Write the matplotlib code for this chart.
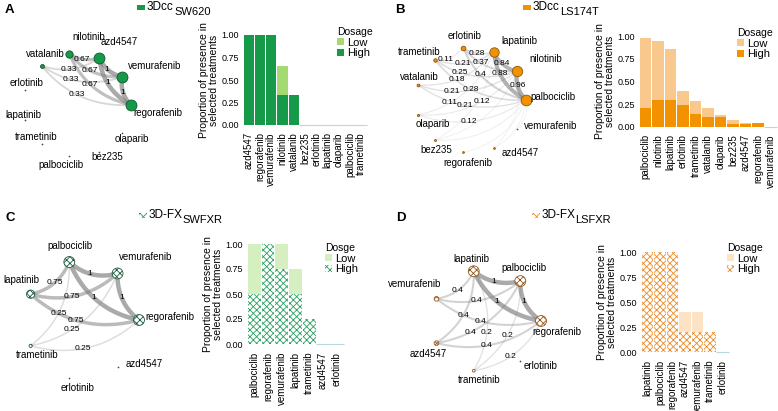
import numpy as np
import matplotlib.pyplot as plt
from matplotlib.patches import Patch, Rectangle

plt.rcParams['font.family'] = ['Liberation Sans', 'DejaVu Sans']
plt.rcParams['hatch.linewidth'] = 0.6

W, H = 778, 411

# ---- panel A: 3Dcc SW620
a_drugs = ["azd4547", "regorafenib", "vemurafenib", "nilotinib", "vatalanib", "bez235",
           "erlotinib", "lapatinib", "olaparib", "palbociclib", "trametinib"]
a_high = [1.0, 1.0, 1.0, 0.33, 0.33, 0, 0, 0, 0, 0, 0]
a_low = [0, 0, 0, 0.33, 0, 0, 0, 0, 0, 0, 0]
a_circle = ["regorafenib", "vemurafenib", "azd4547", "nilotinib", "vatalanib", "erlotinib",
            "lapatinib", "trametinib", "palbociclib", "bez235", "olaparib"]
a_edges = [("azd4547", "regorafenib", 1), ("azd4547", "vemurafenib", 1), ("vemurafenib", "regorafenib", 1),
           ("nilotinib", "azd4547", 0.67), ("nilotinib", "vemurafenib", 0.67), ("nilotinib", "regorafenib", 0.67),
           ("vatalanib", "azd4547", 0.33), ("vatalanib", "vemurafenib", 0.33), ("vatalanib", "regorafenib", 0.33)]

# ---- panel B: 3Dcc LS174T
b_drugs = ["palbociclib", "nilotinib", "lapatinib", "erlotinib", "trametinib", "vatalanib",
           "olaparib", "bez235", "azd4547", "regorafenib", "vemurafenib"]
b_high = [0.21, 0.30, 0.30, 0.24, 0.14, 0.11, 0.11, 0.03, 0.03, 0.04, 0]
b_low = [0.77, 0.65, 0.56, 0.16, 0.14, 0.10, 0.02, 0.05, 0.01, 0, 0]
b_circle = ["palbociclib", "nilotinib", "lapatinib", "erlotinib", "trametinib", "vatalanib",
            "olaparib", "bez235", "regorafenib", "azd4547", "vemurafenib"]
b_edges = [("palbociclib", "nilotinib", 0.96), ("palbociclib", "lapatinib", 0.88), ("nilotinib", "lapatinib", 0.84),
           ("erlotinib", "palbociclib", 0.4), ("erlotinib", "nilotinib", 0.37), ("erlotinib", "lapatinib", 0.28),
           ("trametinib", "palbociclib", 0.28), ("trametinib", "nilotinib", 0.25), ("trametinib", "lapatinib", 0.21),
           ("trametinib", "erlotinib", 0.11),
           ("vatalanib", "palbociclib", 0.21), ("vatalanib", "nilotinib", 0.21), ("vatalanib", "lapatinib", 0.18),
           ("olaparib", "palbociclib", 0.12), ("olaparib", "nilotinib", 0.12), ("olaparib", "lapatinib", 0.11),
           ("bez235", "palbociclib", 0.07), ("bez235", "nilotinib", 0.05), ("bez235", "lapatinib", 0.05),
           ("regorafenib", "palbociclib", 0.04), ("azd4547", "palbociclib", 0.04), ("azd4547", "nilotinib", 0.03),
           ("vemurafenib", "palbociclib", 0.02)]

# ---- panel C: 3D-FX SWFXR
c_drugs = ["palbociclib", "regorafenib", "vemurafenib", "lapatinib", "trametinib", "azd4547", "erlotinib"]
c_high = [0.5, 1.0, 0.75, 0.5, 0.25, 0, 0]
c_low = [0.5, 0, 0.25, 0.25, 0, 0, 0]
c_circle = ["regorafenib", "vemurafenib", "palbociclib", "lapatinib", "trametinib", "erlotinib", "azd4547"]
c_edges = [("palbociclib", "vemurafenib", 1), ("palbociclib", "regorafenib", 1), ("vemurafenib", "regorafenib", 1),
           ("lapatinib", "palbociclib", 0.75), ("lapatinib", "vemurafenib", 0.75), ("lapatinib", "regorafenib", 0.75),
           ("trametinib", "palbociclib", 0.25), ("trametinib", "vemurafenib", 0.25), ("trametinib", "regorafenib", 0.25)]

# ---- panel D: 3D-FX LSFXR
d_drugs = ["lapatinib", "palbociclib", "regorafenib", "azd4547", "vemurafenib", "trametinib", "erlotinib"]
d_high = [1.0, 1.0, 1.0, 0.2, 0.2, 0.2, 0]
d_low = [0, 0, 0, 0.2, 0.2, 0, 0]
d_circle = ["regorafenib", "palbociclib", "lapatinib", "vemurafenib", "azd4547", "trametinib", "erlotinib"]
d_edges = [("lapatinib", "palbociclib", 1), ("lapatinib", "regorafenib", 1), ("palbociclib", "regorafenib", 1),
           ("vemurafenib", "lapatinib", 0.4), ("vemurafenib", "palbociclib", 0.4), ("vemurafenib", "regorafenib", 0.4),
           ("azd4547", "lapatinib", 0.4), ("azd4547", "palbociclib", 0.4), ("azd4547", "regorafenib", 0.4),
           ("trametinib", "lapatinib", 0.2), ("trametinib", "palbociclib", 0.2), ("trametinib", "regorafenib", 0.2)]

# label offsets in pixels (dx, dy up)
a_lab = {"nilotinib": (19, 17), "azd4547": (20, 16), "vemurafenib": (32, 11), "regorafenib": (27, -8),
         "olaparib": (9, -6), "bez235": (8, -5), "palbociclib": (-8, -9), "trametinib": (-5, 7),
         "lapatinib": (-2, 5), "erlotinib": (1, 7), "vatalanib": (4, 12)}
b_lab = {"palbociclib": (27, 3), "nilotinib": (29, 12), "lapatinib": (26, 11), "erlotinib": (1, 12),
         "trametinib": (-16, 8), "vatalanib": (1, 8), "olaparib": (15, -9), "bez235": (1, -10),
         "regorafenib": (5, -11), "azd4547": (26, -5), "vemurafenib": (33, 3)}
c_lab = {"regorafenib": (31, 3), "vemurafenib": (28, 16), "palbociclib": (1, 16), "lapatinib": (-9, 14),
         "trametinib": (7, -9), "erlotinib": (8, -10), "azd4547": (27, 3)}
d_lab = {"regorafenib": (16, -11), "palbociclib": (4, 13), "lapatinib": (-2, 12), "vemurafenib": (-22, 15),
         "azd4547": (-8, -11), "trametinib": (5, -9), "erlotinib": (20, -5)}

fig = plt.figure(figsize=(W / 100, H / 100), dpi=100)


def px_axes(x0, y0, x1, y1):
    return fig.add_axes([x0 / W, 1 - y1 / H, (x1 - x0) / W, (y1 - y0) / H])


def draw_network(cx, cy, rx, ry, order, edges, totals, fill, dark, hatch, lab):
    ax = px_axes(cx - 100, cy - 100, cx + 100, cy + 100)
    ax.set_xlim(-100 / rx, 100 / rx)
    ax.set_ylim(-100 / ry, 100 / ry)
    ax.axis('off')
    n = len(order)
    ang = 2 * np.pi * np.arange(n) / n
    pos = {d: np.array([np.cos(a), np.sin(a)]) for d, a in zip(order, ang)}
    # node label boxes in pixels relative to the circle centre
    name_boxes = [(pos[d][0] * rx + lab[d][0], pos[d][1] * ry + lab[d][1], 2.6 * len(d)) for d in order]
    t = np.linspace(0, 1, 50)[:, None]
    placed = []
    for u, v, w in sorted(edges, key=lambda e: -e[2]):
        if order.index(u) < order.index(v):
            u, v = v, u
        p0, p1 = pos[u], pos[v]
        mid = (p0 + p1) / 2
        dv = p1 - p0
        perp = np.array([dv[1], -dv[0]])
        ctrl = mid + 0.26 * perp
        curve = (1 - t) ** 2 * p0 + 2 * (1 - t) * t * ctrl + t ** 2 * p1
        ax.plot(curve[:, 0], curve[:, 1], color='#808080', alpha=0.12 + 0.55 * w,
                lw=0.4 + 2.8 * w, solid_capstyle='butt', zorder=1)
        if w < 0.1:
            continue
        # keep edge labels apart: slide along the arc to the least crowded spot
        best = None
        for s in [0.45, 0.38, 0.52, 0.32, 0.58]:
            lp = (1 - s) ** 2 * p0 + 2 * (1 - s) * s * ctrl + s ** 2 * p1
            lx, ly = lp[0] * rx, lp[1] * ry
            hits = sum(abs(lx - qx) < 16 and abs(ly - qy) < 9 for qx, qy in placed)
            hits += sum(abs(lx - bx) < hw + 8 and abs(ly - by) < 9 for bx, by, hw in name_boxes)
            if best is None or hits < best[0]:
                best = (hits, lp, lx, ly)
            if hits == 0:
                break
        _, lp, lx, ly = best
        placed.append((lx, ly))
        ax.text(lp[0], lp[1], f"{w:g}", fontsize=6, ha='center', va='center', zorder=4)
    for d in order:
        x, y = pos[d]
        tot = totals[d]
        if tot == 0:
            ax.scatter(x, y, s=1.5, color='#444444', lw=0, zorder=3)
        else:
            ax.scatter(x, y, s=1.5 + 60 * tot ** 2, facecolor=fill, edgecolor=dark,
                       linewidths=0.6, hatch=hatch, zorder=3)
        ax.annotate(d, (x, y), xytext=lab[d], textcoords='offset pixels',
                    ha='center', va='center', fontsize=7, zorder=5)
    return ax


def draw_bars(x0, y0, x1, y1, drugs, high, low, c_high, c_low, hatch, leg_xy, leg_title):
    ax = px_axes(x0, y0, x1, y1)
    x = np.arange(len(drugs))
    high = np.array(high)
    low = np.array(low)
    if hatch:
        ax.bar(x, high, 0.92, facecolor='white', edgecolor=c_high, lw=0, hatch=hatch)
    else:
        ax.bar(x, high, 0.92, color=c_high, lw=0)
    ax.bar(x, low, 0.92, bottom=high, color=c_low, lw=0)
    zero = x[(high + low) == 0]
    ax.hlines(np.zeros(len(zero)), zero - 0.5, zero + 0.5, color='#b9d7df', lw=0.8)
    ax.set_xlim(-0.6, len(drugs) - 0.4)
    ax.set_ylim(-0.05, 1.05)
    ax.set_yticks([0, 0.25, 0.5, 0.75, 1.0])
    ax.set_yticklabels(["0.00", "0.25", "0.50", "0.75", "1.00"], fontsize=6.5)
    ax.set_xticks(x)
    ax.set_xticklabels(drugs, rotation=90, fontsize=7)
    ax.tick_params(length=0, pad=2)
    for s in ax.spines.values():
        s.set_visible(False)
    ax.set_ylabel("Proportion of presence in\nselected treatments", fontsize=7.5, linespacing=1.0, labelpad=2)
    ax.patch.set_alpha(0)
    handles = [Patch(facecolor=c_low, lw=0),
               Patch(facecolor='white', edgecolor=c_high, lw=0, hatch=hatch) if hatch
               else Patch(facecolor=c_high, lw=0)]
    ax.legend(handles, ["Low", "High"], title=leg_title, loc='upper left',
              bbox_to_anchor=(leg_xy[0] / W, 1 - leg_xy[1] / H), bbox_transform=fig.transFigure,
              frameon=False, fontsize=8, title_fontsize=7.5, handlelength=0.6, handleheight=0.6,
              handletextpad=0.3, labelspacing=0.05, borderpad=0, borderaxespad=0, alignment='left')
    return ax


def top_legend(x, y, color, hatch, name, line):
    r = Rectangle((x / W, 1 - (y + 3) / H), 8 / W, 5 / H, transform=fig.transFigure,
                  facecolor='white' if hatch else color, edgecolor=color, lw=0, hatch=hatch)
    fig.add_artist(r)
    fig.text((x + 10) / W, 1 - y / H, name, fontsize=8.5, va='center')
    fig.text((x + 10 + 6.3 * len(name) + 2) / W, 1 - (y + 5) / H, line, fontsize=8, va='center')


def totals_of(drugs, high, low):
    return {d: h + l for d, h, l in zip(drugs, high, low)}


green, green_l, green_d = '#17994a', '#a5da72', '#0c5a2a'
orange, orange_l, orange_d = '#f39200', '#f9c88c', '#8c5606'
fx_green, fx_green_l, fx_green_d = '#2a9f62', '#d5efc0', '#1b5a3b'
fx_orange, fx_orange_l, fx_orange_d = '#ee8a25', '#fbe3c3', '#94561a'

draw_network(77, 105, 54, 52, a_circle, a_edges, totals_of(a_drugs, a_high, a_low), green, green_d, None, a_lab)
draw_network(471, 100, 55, 53, b_circle, b_edges, totals_of(b_drugs, b_high, b_low), orange, orange_d, None, b_lab)
draw_network(82, 320, 57, 59.5, c_circle, c_edges, totals_of(c_drugs, c_high, c_low), 'white', fx_green_d, 'xxxxx', c_lab)
draw_network(486, 321, 55, 51, d_circle, d_edges, totals_of(d_drugs, d_high, d_low), 'white', fx_orange_d, 'xxxxx', d_lab)

draw_bars(242, 30.5, 368, 129.5, a_drugs, a_high, a_low, green, green_l, None, (337, 27), "Dosage")
draw_bars(638, 31.5, 778, 131.5, b_drugs, b_high, b_low, orange, orange_l, None, (737, 28), "Dosage")
draw_bars(246, 239, 345, 349, c_drugs, c_high, c_low, fx_green, fx_green_l, 'xxxxx', (325, 243), "Dosge")
draw_bars(640, 247, 730, 357, d_drugs, d_high, d_low, fx_orange, fx_orange_l, 'xxxxx', (727, 243), "Dosage")

top_legend(137, 7, green, None, "3Dcc", "SW620")
top_legend(523, 7, orange, None, "3Dcc", "LS174T")
top_legend(139, 215, fx_green, 'xxxxx', "3D-FX", "SWFXR")
top_legend(532, 215, fx_orange, 'xxxxx', "3D-FX", "LSFXR")

for letter, x, y in [("A", 5, 10), ("B", 395, 10), ("C", 5, 218), ("D", 396, 218)]:
    fig.text(x / W, 1 - y / H, letter, fontsize=9.5, fontweight='bold', va='center')

fig.savefig("out.png", dpi=100)
